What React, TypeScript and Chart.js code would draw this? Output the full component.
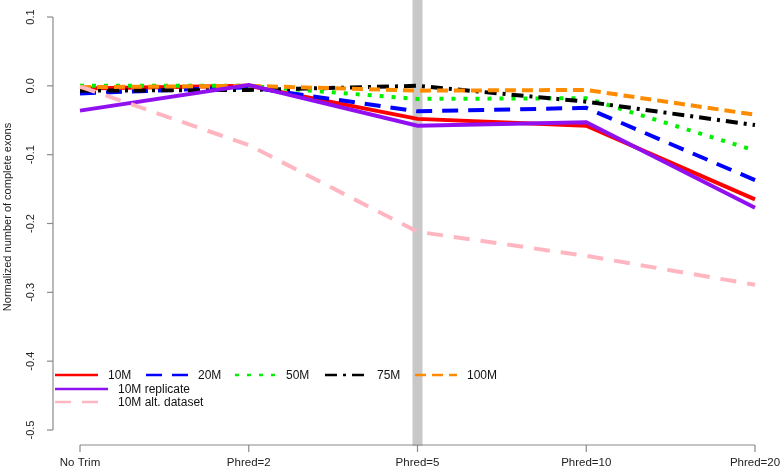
import React, { useEffect, useRef } from "react";
import { Chart, registerables } from "chart.js";

Chart.register(...registerables);

const categories = ["No Trim", "Phred=2", "Phred=5", "Phred=10", "Phred=20"];
const yTicks = [0.1, 0.0, -0.1, -0.2, -0.3, -0.4, -0.5];
const yTickLabels = ["0.1", "0.0", "-0.1", "-0.2", "-0.3", "-0.4", "-0.5"];
const yTitle = "Normalized number of complete exons";
const highlightCategory = "Phred=5";

const seriesLabels = ["10M", "20M", "50M", "75M", "100M", "10M replicate", "10M alt. dataset"];
const s10M = [-0.004, 0.0, -0.048, -0.058, -0.165];
const s20M = [-0.011, -0.002, -0.037, -0.032, -0.137];
const s50M = [0.0, 0.0, -0.019, -0.018, -0.094];
const s75M = [-0.007, -0.006, 0.0, -0.023, -0.057];
const s100M = [-0.002, 0.0, -0.007, -0.006, -0.042];
const s10MRep = [-0.036, 0.001, -0.058, -0.053, -0.177];
const s10MAlt = [-0.001, -0.086, -0.212, -0.247, -0.289];

const seriesColors = ["#ff0000", "#0000ff", "#00f000", "#000000", "#ff8c00", "#9010f0", "#ffb6c1"];
const seriesDashes: number[][] = [[], [16, 10], [4, 8], [12, 6, 3, 6], [11, 6], [], [16, 11]];

const FONT = "'Liberation Sans', Arial, Helvetica, sans-serif";

const rStylePlugin = {
  id: "rStyle",
  beforeDatasetsDraw(chart: any) {
    const ctx = chart.ctx;
    const xs = chart.scales.x;
    const idx = categories.indexOf(highlightCategory);
    const px = xs.getPixelForValue(idx);
    ctx.save();
    ctx.fillStyle = "#c8c8c8";
    ctx.fillRect(px - 5, 0, 10, chart.chartArea.bottom + 16);
    ctx.restore();
  },
  afterDraw(chart: any) {
    const ctx = chart.ctx;
    const xs = chart.scales.x;
    const ys = chart.scales.y;
    const area = chart.chartArea;
    ctx.save();
    ctx.strokeStyle = "#8a8a8a";
    ctx.lineWidth = 1.2;
    ctx.fillStyle = "#222";
    // y axis
    const axX = area.left - 27;
    ctx.beginPath();
    ctx.moveTo(axX, ys.getPixelForValue(yTicks[0]));
    ctx.lineTo(axX, ys.getPixelForValue(yTicks[yTicks.length - 1]));
    ctx.stroke();
    ctx.font = "11px " + FONT;
    ctx.textAlign = "center";
    ctx.textBaseline = "middle";
    yTicks.forEach((v, i) => {
      const py = ys.getPixelForValue(v);
      ctx.beginPath();
      ctx.moveTo(axX, py);
      ctx.lineTo(axX - 6, py);
      ctx.stroke();
      ctx.save();
      ctx.translate(axX - 22, py);
      ctx.rotate(-Math.PI / 2);
      ctx.fillText(yTickLabels[i], 0, 0);
      ctx.restore();
    });
    // y title
    ctx.save();
    ctx.font = "11px " + FONT;
    ctx.translate(8, 217);
    ctx.rotate(-Math.PI / 2);
    ctx.fillText(yTitle, 0, 0);
    ctx.restore();
    // x axis
    const axY = area.bottom + 15;
    ctx.beginPath();
    ctx.moveTo(xs.getPixelForValue(0), axY);
    ctx.lineTo(xs.getPixelForValue(categories.length - 1), axY);
    ctx.stroke();
    ctx.font = "11.5px " + FONT;
    categories.forEach((c, i) => {
      const px = xs.getPixelForValue(i);
      ctx.beginPath();
      ctx.moveTo(px, axY);
      ctx.lineTo(px, axY + 7);
      ctx.stroke();
      ctx.fillText(c, px, axY + 18);
    });
    // legend
    const rows = [375, 389, 402];
    const entries = [
      [55, 98, 108, 0],
      [146, 188, 198, 0],
      [235, 276, 286, 0],
      [325, 367, 377, 0],
      [415, 457, 467, 0],
      [55, 108, 118, 1],
      [55, 100, 118, 2],
    ];
    ctx.font = "12px " + FONT;
    ctx.textAlign = "left";
    chart.data.datasets.forEach((ds: any, i: number) => {
      const [sx, ex, tx, r] = entries[i];
      const y = rows[r];
      ctx.save();
      ctx.strokeStyle = ds.borderColor;
      ctx.lineWidth = 2.5;
      ctx.setLineDash(ds.borderDash || []);
      ctx.lineCap = "butt";
      ctx.beginPath();
      ctx.moveTo(sx, y);
      ctx.lineTo(ex, y);
      ctx.stroke();
      ctx.restore();
      ctx.fillStyle = "#111";
      ctx.fillText(ds.label, tx, y + 1);
    });
    ctx.restore();
  },
};

export default function App() {
  const ref = useRef<HTMLCanvasElement>(null);
  useEffect(() => {
    if (!ref.current) return;
    const all = [s10M, s20M, s50M, s75M, s100M, s10MRep, s10MAlt];
    const chart = new Chart(ref.current, {
      type: "line",
      data: {
        labels: categories,
        datasets: all.map((d, i) => ({
          label: seriesLabels[i],
          data: d,
          borderColor: seriesColors[i],
          backgroundColor: seriesColors[i],
          borderDash: seriesDashes[i],
          borderWidth: 4,
          pointRadius: 0,
          tension: 0,
          fill: false,
          order: 10 - i,
        })),
      },
      options: {
        animation: false,
        responsive: false,
        devicePixelRatio: 1,
        layout: { padding: { left: 80, right: 25, top: 17, bottom: 42 } },
        plugins: { legend: { display: false }, tooltip: { enabled: false } },
        scales: {
          x: { type: "category", offset: false, display: false },
          y: { min: -0.5, max: 0.1, display: false },
        },
      },
      plugins: [rStylePlugin],
    });
    return () => chart.destroy();
  }, []);
  return (
    <div style={{ position: "fixed", left: 0, top: 0, width: 780, height: 472, background: "#fff" }}>
      <canvas ref={ref} width={780} height={472} style={{ width: 780, height: 472 }} />
    </div>
  );
}
